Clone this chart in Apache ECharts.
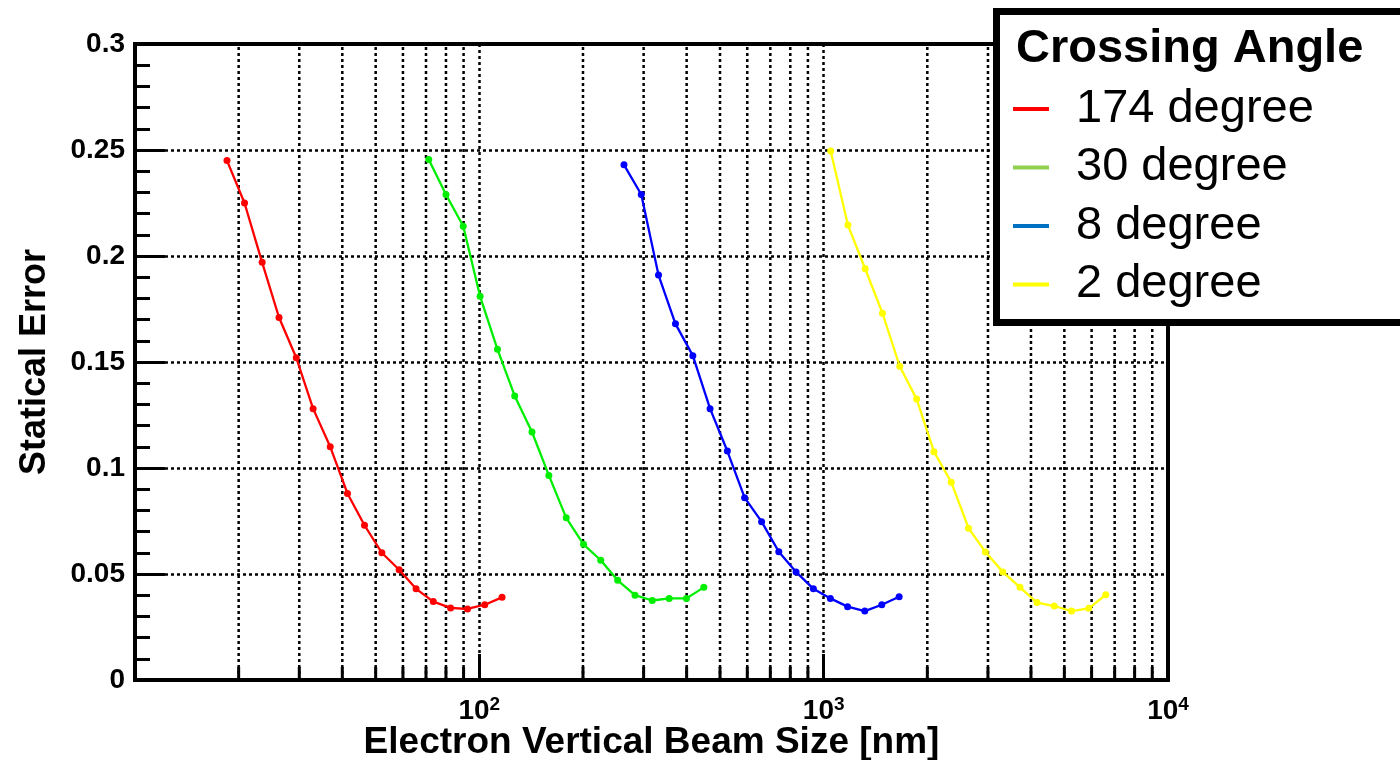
<!DOCTYPE html>
<html>
<head>
<meta charset="utf-8">
<title>Statical Error vs Electron Vertical Beam Size</title>
<script src="https://cdn.jsdelivr.net/npm/echarts@6/dist/echarts.min.js"></script>
<style>
  html, body { margin: 0; padding: 0; background: #ffffff; }
  #chart { width: 1400px; height: 760px; }
</style>
</head>
<body>
<div id="chart"></div>
<script>
// Beam size [nm] and statistical error for each crossing angle
const seriesNames = ['174 degree', '30 degree', '8 degree', '2 degree'];

const x174 = [18.5, 20.8, 23.4, 26.2, 29.4, 32.9, 36.9, 41.4, 46.4, 52.1, 58.5, 65.5, 73.5, 82.5, 92.4, 103.7, 116.4];
const y174 = [0.245, 0.225, 0.197, 0.171, 0.152, 0.128, 0.110, 0.088, 0.073, 0.060, 0.052, 0.043, 0.037, 0.034, 0.0335, 0.0355, 0.039];

const x30 = [71.3, 80.0, 89.8, 100.5, 112.9, 126.7, 142.2, 159.2, 178.8, 200.7, 225.2, 252.2, 283.2, 317.8, 356.0, 399.5, 448.6];
const y30 = [0.2455, 0.229, 0.214, 0.181, 0.156, 0.134, 0.117, 0.0965, 0.0765, 0.064, 0.0565, 0.047, 0.040, 0.0375, 0.0385, 0.0385, 0.0437];

const x8 = [263.1, 295.3, 331.4, 371.2, 416.9, 467.8, 525.1, 589.4, 660.3, 740.8, 831.4, 933.6, 1045.7, 1173.3, 1316.6, 1474.9, 1656.4];
const y8 = [0.243, 0.229, 0.191, 0.168, 0.153, 0.128, 0.108, 0.086, 0.0747, 0.0605, 0.051, 0.043, 0.0385, 0.0346, 0.0325, 0.0355, 0.0393];

const x2 = [1048, 1176, 1320, 1482, 1663, 1862, 2091, 2347, 2634, 2949, 3313, 3717, 4164, 4672, 5248, 5888, 6594];
const y2 = [0.2495, 0.2146, 0.194, 0.173, 0.148, 0.1325, 0.1077, 0.0933, 0.0716, 0.0604, 0.051, 0.0437, 0.0365, 0.0349, 0.0325, 0.0338, 0.0402];

// Minor log-decade graduations on the beam-size axis
const minorTicksX = [20, 30, 40, 50, 60, 70, 80, 90, 200, 300, 400, 500, 600, 700, 800, 900, 2000, 3000, 4000, 5000, 6000, 7000, 8000, 9000];

const X_MIN = 10, X_MAX = 10000;
const Y_MIN = 0, Y_MAX = 0.3, Y_STEP = 0.05;

const lineColors = ['#ff0000', '#00ee00', '#0000ff', '#ffff00'];
const legendColors = ['#ff0000', '#92d050', '#0070c0', '#ffff00'];

const FONT = '"Liberation Sans", Arial, Helvetica, sans-serif';
const GRID_DASH = { color: '#000', width: 2.5, type: [3, 3] };

function pairs(xs, ys) {
  return xs.map((x, i) => [x, ys[i]]);
}

const seriesData = [pairs(x174, y174), pairs(x30, y30), pairs(x8, y8), pairs(x2, y2)];

const chart = echarts.init(document.getElementById('chart'));

const lineSeries = seriesNames.map((name, i) => ({
  name: name,
  type: 'line',
  data: seriesData[i],
  symbol: 'circle',
  symbolSize: 7,
  showSymbol: true,
  lineStyle: { color: lineColors[i], width: 2.3 },
  itemStyle: { color: lineColors[i] },
  z: 4,
  animation: false
}));

// Dotted verticals at each minor graduation, ending in a short solid tick
const minorGridSeries = {
  name: 'minorGrid',
  type: 'custom',
  data: minorTicksX.map(v => [v, Y_MIN]),
  encode: { x: 0, y: 1 },
  silent: true,
  z: 1,
  renderItem: function (params, api) {
    const v = api.value(0);
    const b = api.coord([v, Y_MIN]);
    const t = api.coord([v, Y_MAX]);
    return {
      type: 'group',
      children: [
        { type: 'line', shape: { x1: b[0], y1: b[1], x2: t[0], y2: t[1] },
          style: { stroke: '#000', lineWidth: GRID_DASH.width, lineDash: GRID_DASH.type } },
        { type: 'line', shape: { x1: b[0], y1: b[1], x2: b[0], y2: b[1] - 13 },
          style: { stroke: '#000', lineWidth: 3 } }
      ]
    };
  },
  animation: false
};

const option = {
  backgroundColor: '#ffffff',
  animation: false,
  textStyle: { fontFamily: FONT },
  grid: {
    left: 135, right: 232, top: 44, bottom: 80,
    outerBoundsMode: 'none',
    containLabel: false,
    show: true, borderColor: '#000', borderWidth: 4, backgroundColor: 'transparent'
  },
  title: {
    text: 'Crossing Angle',
    left: 1016, top: 26, padding: 0, z: 60,
    textStyle: { fontFamily: FONT, fontSize: 47, fontWeight: 'bold', color: '#000' }
  },
  legend: {
    orient: 'vertical',
    left: 1013, top: 84, padding: 0, z: 60,
    icon: 'rect', itemWidth: 36, itemHeight: 4, itemGap: 8.5,
    selectedMode: false,
    textStyle: { fontFamily: FONT, fontSize: 47, color: '#000', lineHeight: 50, padding: [0, 0, 0, 22] },
    data: seriesNames.map((name, i) => ({
      name: name,
      itemStyle: { color: legendColors[i] },
      lineStyle: { color: legendColors[i] }
    }))
  },
  graphic: [{
    type: 'rect', z: 50,
    left: 993, top: 8,
    shape: { width: 420, height: 311 },
    style: { fill: '#ffffff', stroke: '#000', lineWidth: 7 }
  }],
  xAxis: {
    type: 'log', logBase: 10, min: X_MIN, max: X_MAX,
    name: 'Electron Vertical Beam Size [nm]',
    nameLocation: 'middle', nameGap: 44, nameMoveOverlap: false,
    nameTextStyle: { fontFamily: FONT, fontSize: 37, fontWeight: 'bold', color: '#000' },
    axisLine: { show: true, lineStyle: { color: '#000', width: 4 } },
    axisTick: { show: true, inside: true, length: 26, lineStyle: { color: '#000', width: 3 } },
    splitLine: { show: true, lineStyle: GRID_DASH },
    axisLabel: {
      margin: 15, color: '#000',
      formatter: function (v) {
        if (v <= X_MIN) return '';
        return '{a|10}{b|' + Math.round(Math.log10(v)) + '}';
      },
      rich: {
        a: { fontFamily: FONT, fontSize: 28, fontWeight: 'bold', color: '#000', lineHeight: 30, verticalAlign: 'bottom' },
        b: { fontFamily: FONT, fontSize: 19, fontWeight: 'bold', color: '#000', lineHeight: 19, verticalAlign: 'top' }
      }
    }
  },
  yAxis: {
    type: 'value', min: Y_MIN, max: Y_MAX, interval: Y_STEP,
    name: 'Statical Error',
    nameLocation: 'middle', nameGap: 82, nameRotate: 90, nameMoveOverlap: false,
    nameTextStyle: { fontFamily: FONT, fontSize: 36, fontWeight: 'bold', color: '#000' },
    axisLine: { show: true, lineStyle: { color: '#000', width: 4 } },
    axisTick: { show: true, inside: true, length: 30, lineStyle: { color: '#000', width: 3 } },
    minorTick: { show: true, splitNumber: 5, length: 15, lineStyle: { color: '#000', width: 3 } },
    splitLine: { show: true, lineStyle: GRID_DASH },
    axisLabel: {
      margin: 10, color: '#000',
      fontFamily: FONT, fontSize: 28, fontWeight: 'bold'
    }
  },
  series: [minorGridSeries].concat(lineSeries)
};

chart.setOption(option);
</script>
</body>
</html>
